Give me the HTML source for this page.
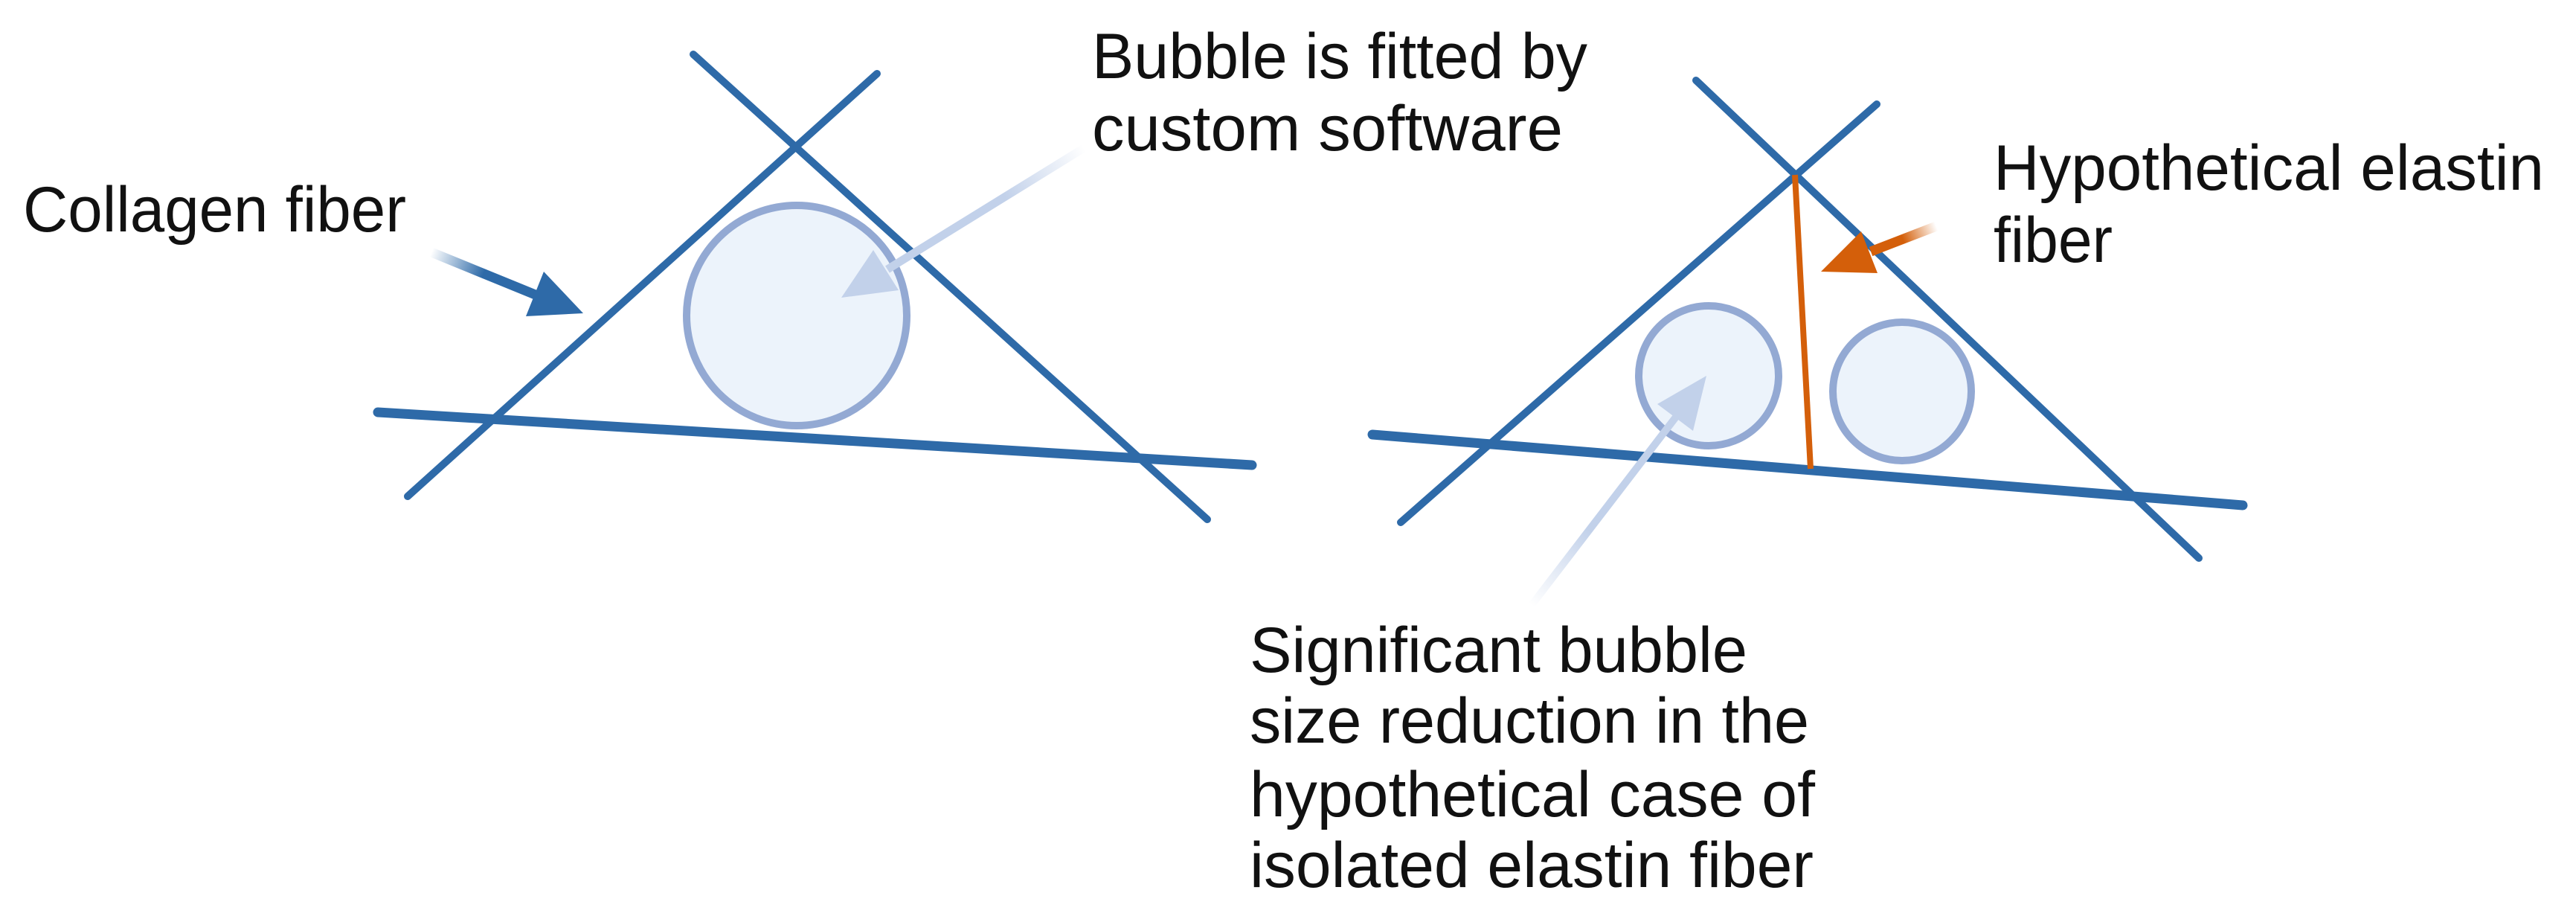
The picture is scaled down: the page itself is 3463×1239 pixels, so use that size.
<!DOCTYPE html>
<html><head><meta charset="utf-8"><style>html,body{margin:0;padding:0;background:#fff}svg{display:block}</style></head>
<body>
<svg width="3463" height="1239" viewBox="0 0 3463 1239" xmlns="http://www.w3.org/2000/svg">
<defs>
<linearGradient id="g1" gradientUnits="userSpaceOnUse" x1="580" y1="339" x2="720" y2="396"><stop offset="0" stop-color="#2e6aa8" stop-opacity="0"/><stop offset="0.5" stop-color="#2e6aa8"/><stop offset="1" stop-color="#2e6aa8"/></linearGradient>
<linearGradient id="g2" gradientUnits="userSpaceOnUse" x1="1457" y1="199" x2="1191" y2="363"><stop offset="0" stop-color="#c2d1ea" stop-opacity="0"/><stop offset="0.4" stop-color="#c2d1ea"/><stop offset="1" stop-color="#c2d1ea"/></linearGradient>
<linearGradient id="g3" gradientUnits="userSpaceOnUse" x1="2603" y1="304" x2="2513" y2="339"><stop offset="0" stop-color="#d45f0a" stop-opacity="0"/><stop offset="0.5" stop-color="#d45f0a"/><stop offset="1" stop-color="#d45f0a"/></linearGradient>
<linearGradient id="g4" gradientUnits="userSpaceOnUse" x1="2059" y1="813" x2="2252" y2="561"><stop offset="0" stop-color="#c2d1ea" stop-opacity="0"/><stop offset="0.4" stop-color="#c2d1ea"/><stop offset="1" stop-color="#c2d1ea"/></linearGradient>
</defs>
<g stroke-linecap="round" fill="none">
<circle cx="1071" cy="424" r="148" fill="#ecf3fb" stroke="#93a9d3" stroke-width="10"/>
<line x1="932" y1="73" x2="1623" y2="698" stroke="#2e6aa8" stroke-width="10"/>
<line x1="1179" y1="99" x2="548" y2="667" stroke="#2e6aa8" stroke-width="10"/>
<line x1="508" y1="554" x2="1683" y2="625" stroke="#2e6aa8" stroke-width="13"/>
<circle cx="2297" cy="505" r="94" fill="#ecf3fb" stroke="#93a9d3" stroke-width="10"/>
<circle cx="2557" cy="526" r="93" fill="#ecf3fb" stroke="#93a9d3" stroke-width="10"/>
<line x1="2280" y1="108" x2="2956" y2="750" stroke="#2e6aa8" stroke-width="10"/>
<line x1="2523" y1="140" x2="1883" y2="702" stroke="#2e6aa8" stroke-width="10"/>
<line x1="1845" y1="584" x2="3015" y2="679" stroke="#2e6aa8" stroke-width="13"/>
<line x1="2413" y1="235" x2="2434" y2="630" stroke="#d45f0a" stroke-width="8" stroke-linecap="butt"/>
<line x1="580" y1="339" x2="722" y2="397" stroke="url(#g1)" stroke-width="13" stroke-linecap="butt"/>
<line x1="1457" y1="199" x2="1193" y2="362" stroke="url(#g2)" stroke-width="11" stroke-linecap="butt"/>
<line x1="2603" y1="304" x2="2515" y2="338" stroke="url(#g3)" stroke-width="13" stroke-linecap="butt"/>
<line x1="2059" y1="813" x2="2254" y2="559" stroke="url(#g4)" stroke-width="10" stroke-linecap="butt"/>
</g>
<polygon points="784,421 707,425 731,365" fill="#2e6aa8"/>
<polygon points="1131,400 1208,390 1174,336" fill="#c2d1ea"/>
<polygon points="2448,365 2524,367 2502,311" fill="#d45f0a"/>
<polygon points="2294,505 2276,579 2228,543" fill="#c2d1ea"/>
<g font-family="'Liberation Sans', sans-serif" font-size="86" fill="#111">
<text x="31" y="311" textLength="515" lengthAdjust="spacingAndGlyphs">Collagen fiber</text>
<text x="1468" y="105" textLength="666" lengthAdjust="spacingAndGlyphs">Bubble is fitted by</text>
<text x="1468" y="202" textLength="633" lengthAdjust="spacingAndGlyphs">custom software</text>
<text x="2680" y="255" textLength="740" lengthAdjust="spacingAndGlyphs">Hypothetical elastin</text>
<text x="2680" y="352" textLength="160" lengthAdjust="spacingAndGlyphs">fiber</text>
<text x="1680" y="903" textLength="669" lengthAdjust="spacingAndGlyphs">Significant bubble</text>
<text x="1680" y="998" textLength="752" lengthAdjust="spacingAndGlyphs">size reduction in the</text>
<text x="1680" y="1097" textLength="760" lengthAdjust="spacingAndGlyphs">hypothetical case of</text>
<text x="1680" y="1192" textLength="758" lengthAdjust="spacingAndGlyphs">isolated elastin fiber</text>
</g>
</svg>
</body></html>
